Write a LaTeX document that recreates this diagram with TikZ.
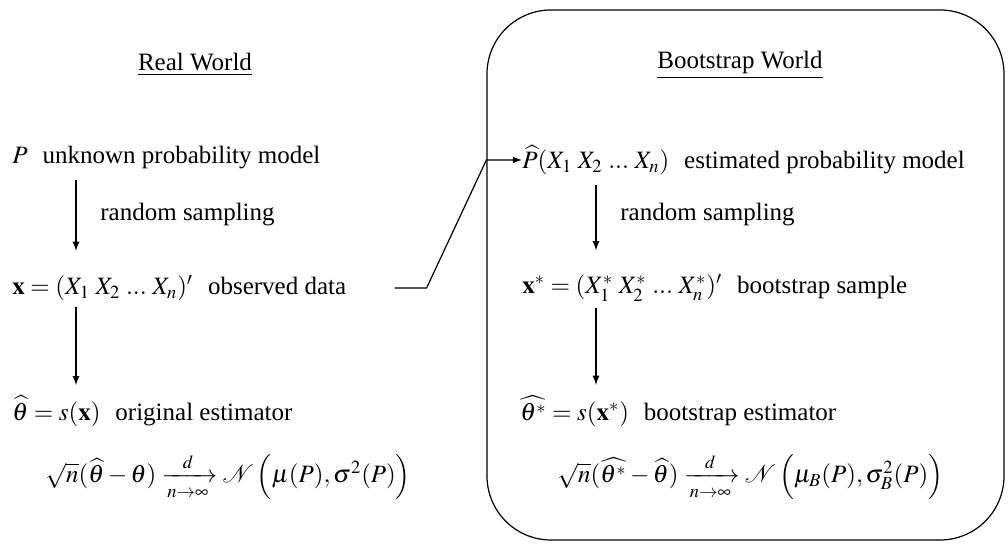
\documentclass[tikz,border=0pt]{standalone}
\usepackage{amsmath}
\usepackage{mathptmx}
\usepackage{fontspec}
\setmainfont{Liberation Serif}
\usepackage{tikz}
\usetikzlibrary{positioning}
\usetikzlibrary{arrows}
\tikzset{>=latex}
\tikzstyle{txtnode}=[anchor=west,inner sep=0pt,font=\fontsize{12.5}{15}\selectfont]
\tikzstyle{headnode}=[inner sep=0pt,font=\fontsize{12.5}{15}\selectfont]
\tikzstyle{worldbox}=[draw=black,line width=0.6pt,rounded corners=32pt,minimum width=258.5pt,minimum height=265pt]
\tikzstyle{taro}=[->,line width=0.6pt,color=black]

\begin{document}
\begin{tikzpicture}[x=0.5pt,y=-0.5pt]
	\useasboundingbox (0,0) rectangle (1008,544);

	% Real world
	\begin{scope}
	\node[headnode] (rwlabel) at (195,65) {\underline{Real World}};
	\node[txtnode] (P) at (12,158) {$P$\hspace{0.6em}unknown probability model};
	\node[txtnode] (rs) at (100,215) {random sampling};
	\node[txtnode] (x) at (12,288) {$\mathbf{x}=(X_1\;X_2\;...\;X_n)'$\hspace{0.6em}observed data};
	\node[txtnode] (theta) at (12,411) {$\widehat{\theta}=s(\mathbf{x})$\hspace{0.6em}original estimator};
	\node[txtnode] (clt) at (45,477) {$\sqrt{n}(\widehat{\theta}-\theta)\xrightarrow[n\to\infty]{d}\mathcal{N}\,\Bigl(\mu(P),\sigma^2(P)\Bigr)$};
	\draw[taro,shorten <=5pt,shorten >=12pt] (P.south -| 76,0) -- (x.north -| 76,0);
	\draw[taro,shorten <=3pt,shorten >=5pt] (x.south -| 76,0) -- (theta.north -| 76,0);
	\end{scope}

	% Bootstrap world
	\begin{scope}
	\node[worldbox] (bsbox) at (745.5,275) {};
	\node[headnode] (bwlabel) at (740,65) {\underline{Bootstrap World}};
	\node[txtnode] (Phat) at (522,160) {$\widehat{P}(X_1\;X_2\;...\;X_n)$\hspace{0.6em}estimated probability model};
	\node[txtnode] (rsb) at (620,215) {random sampling};
	\node[txtnode] (xstar) at (522,288) {$\mathbf{x}^*=(X_1^*\;X_2^*\;...\;X_n^*)'$\hspace{0.6em}bootstrap sample};
	\node[txtnode] (thetastar) at (520,411) {$\widehat{\theta^*}=s(\mathbf{x}^*)$\hspace{0.6em}bootstrap estimator};
	\node[txtnode] (cltb) at (557,477) {$\sqrt{n}(\widehat{\theta^*}-\widehat{\theta})\xrightarrow[n\to\infty]{d}\mathcal{N}\,\Bigl(\mu_B(P),\sigma_B^2(P)\Bigr)$};
	\draw[taro,shorten <=5pt,shorten >=12pt] (Phat.south -| 596,0) -- (xstar.north -| 596,0);
	\draw[taro,shorten <=3pt,shorten >=5pt] (xstar.south -| 596,0) -- (thetastar.north -| 596,0);
	\end{scope}

	% plug-in link
	\draw[taro] ([xshift=24pt]x.east) -- ([xshift=40pt]x.east) -- (Phat.west -| bsbox.west) -- (Phat.west);

\end{tikzpicture}
\end{document}
